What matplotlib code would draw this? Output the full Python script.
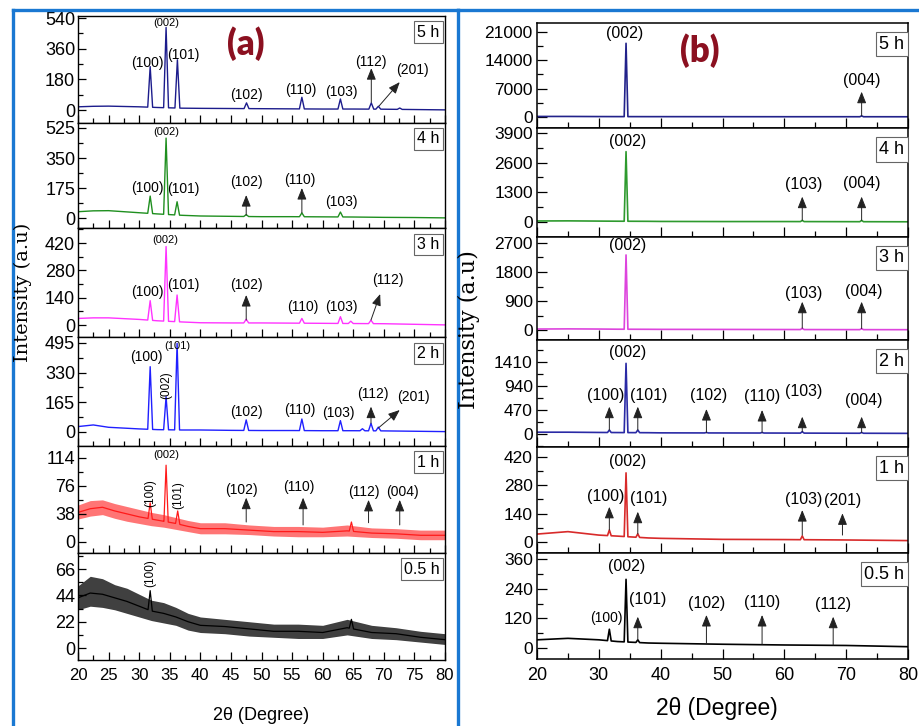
import numpy as np
import matplotlib
matplotlib.use("Agg")
import matplotlib.pyplot as plt
from matplotlib.ticker import AutoMinorLocator, MultipleLocator
from matplotlib.lines import Line2D

# ---------------- DATA ----------------
# Panel (a): background level of each pattern
A_BG_X = [20, 22.5, 25, 30, 33, 37, 40, 45, 50, 55, 60, 65, 70, 75, 80]
A5_BG = [19, 22, 23, 19, 15, 11, 10, 9, 8, 7, 6, 6, 5, 3, 1]
A4_BG = [37, 42, 43, 31, 24, 16, 12, 10, 8, 8, 7, 6, 4, 3, 1]
A3_BG = [34, 37, 37, 29, 22, 16, 12, 11, 11, 10, 9, 8, 7, 4, 1]
A2_BG = [30, 39, 26, 17, 13, 11, 11, 9, 8, 8, 7, 7, 6, 4, 2]

# noisy patterns of panel (a): centre, upper and lower envelope
A_NZ_X = [20, 22, 24, 26, 28, 30, 32, 34, 36, 38, 40, 44, 48, 52, 56, 60, 64, 68, 72, 76, 80]
A1_MID = [40, 45, 47, 42, 38, 34, 31, 28, 25, 21, 18, 18, 16, 14, 14, 13, 15, 12, 11, 9, 9]
A1_HI = [50, 56, 57, 52, 48, 44, 40, 37, 33, 29, 26, 26, 23, 21, 21, 20, 23, 19, 18, 16, 16]
A1_LO = [31, 35, 37, 32, 28, 25, 22, 20, 17, 14, 11, 11, 10, 8, 7, 7, 8, 6, 5, 3, 3]
A05_MID = [42, 46, 45, 42, 39, 35, 31, 29, 26, 22, 19, 18, 16, 14, 14, 13, 17, 13, 12, 9, 7]
A05_HI = [52, 60, 58, 53, 50, 45, 40, 38, 34, 29, 26, 24, 22, 20, 20, 19, 24, 19, 17, 14, 12]
A05_LO = [32, 35, 34, 32, 29, 26, 23, 21, 19, 15, 13, 12, 10, 9, 8, 8, 11, 8, 7, 5, 3]

# peaks of panel (a): position (2theta) and top intensity
A5_PK_X = [31.8, 34.4, 36.25, 47.55, 56.6, 62.9, 67.95, 69.1, 72.6]
A5_PK_Y = [255, 485, 295, 42, 75, 65, 42, 22, 12]
A4_PK_X = [31.8, 34.4, 36.2, 47.5, 56.6, 62.9]
A4_PK_Y = [128, 466, 95, 20, 30, 35]
A3_PK_X = [31.8, 34.4, 36.2, 47.5, 56.6, 62.9, 64.6, 67.9]
A3_PK_Y = [125, 402, 154, 30, 34, 43, 20, 25]
A2_PK_X = [31.8, 34.4, 36.2, 47.5, 56.6, 62.9, 66.5, 67.9, 69.1]
A2_PK_Y = [363, 196, 493, 67, 72, 63, 18, 48, 27]
A1_PK_X = [31.8, 34.4, 36.3, 64.7]
A1_PK_Y = [53, 104, 42, 27]
A05_PK_X = [31.8, 64.7]
A05_PK_Y = [48, 24]

# Panel (b)
B_BG_X = [20, 25, 30, 33, 38, 40, 50, 60, 70, 80]
B5_BG = [150, 150, 120, 110, 100, 100, 90, 80, 80, 70]
B4_BG = [45, 50, 40, 35, 30, 25, 20, 20, 15, 10]
B3_BG = [30, 35, 30, 25, 22, 20, 18, 15, 12, 10]
B2_BG = [35, 35, 30, 28, 25, 22, 20, 18, 15, 12]
B1_BG = [39, 51, 34, 29, 20, 18, 13, 12, 10, 7]
B05_BG = [33, 39, 33, 26, 20, 19, 15, 12, 10, 5]

B5_PK_X = [34.4, 72.5]
B5_PK_Y = [18200, 300]
B4_PK_X = [34.4, 62.9, 72.5]
B4_PK_Y = [3080, 70, 70]
B3_PK_X = [34.4, 62.9, 72.5]
B3_PK_Y = [2330, 55, 45]
B2_PK_X = [31.7, 34.4, 36.3, 47.4, 56.4, 62.9, 72.5]
B2_PK_Y = [78, 1384, 78, 30, 30, 45, 30]
B1_PK_X = [31.7, 34.4, 36.3, 62.9]
B1_PK_Y = [59, 340, 40, 30]
B05_PK_X = [31.7, 34.4, 36.3]
B05_PK_Y = [76, 279, 33]

# y tick values
A_YTICKS = [[0, 180, 360, 540], [0, 175, 350, 525], [0, 140, 280, 420],
            [0, 165, 330, 495], [0, 38, 76, 114], [0, 22, 44, 66]]
B_YTICKS = [[0, 7000, 14000, 21000], [0, 1300, 2600, 3900], [0, 900, 1800, 2700],
            [0, 470, 940, 1410], [0, 140, 280, 420], [0, 120, 240, 360]]
A_YLIM = [(-76, 552), (-58, 554), (-61, 497), (-78, 528), (-15, 130), (-10, 79.5)]
B_YLIM = [(-2700, 23200), (-656, 4114), (-310, 2886), (-255, 1841), (-54, 467), (-45, 386)]
TIMES = ["5 h", "4 h", "3 h", "2 h", "1 h", "0.5 h"]

# peak labels: (text, x, y, kind)   kind: n normal, s small, r rotated
A_LABELS = [
    [("(100)", 31.4, 276, "n"), ("(002)", 34.4, 510, "s"), ("(101)", 37.2, 323, "n"),
     ("(102)", 47.6, 88, "n"), ("(110)", 56.5, 117, "n"), ("(103)", 63.0, 106, "n"),
     ("(112)", 67.9, 282, "n"), ("(201)", 74.6, 235, "n")],
    [("(100)", 31.4, 175, "n"), ("(002)", 34.4, 501, "s"), ("(101)", 37.2, 169, "n"),
     ("(102)", 47.6, 210, "n"), ("(110)", 56.3, 222, "n"), ("(103)", 63.0, 93, "n")],
    [("(100)", 31.4, 171, "n"), ("(002)", 34.2, 436, "s"), ("(101)", 37.2, 205, "n"),
     ("(102)", 47.6, 205, "n"), ("(110)", 56.8, 92, "n"), ("(103)", 63.0, 92, "n"),
     ("(112)", 70.7, 231, "n")],
    [("(100)", 31.2, 418, "n"), ("(002)", 34.4, 261, "r"), ("(101)", 36.2, 478, "s"),
     ("(102)", 47.5, 113, "n"), ("(110)", 56.3, 122, "n"), ("(103)", 62.5, 107, "n"),
     ("(112)", 68.2, 211, "n"), ("(201)", 74.8, 196, "n")],
    [("(100)", 31.8, 66, "r"), ("(002)", 34.4, 118, "s"), ("(101)", 36.4, 64, "r"),
     ("(102)", 46.8, 71, "n"), ("(110)", 56.1, 75, "n"), ("(112)", 66.8, 68, "n"),
     ("(004)", 73.0, 68, "n")],
    [("(100)", 31.8, 63, "r")],
]
# arrows: (x_from, y_from, x_to, y_to)
A_ARROWS = [
    [(67.95, 45, 67.95, 246), (69.2, 23, 72.6, 164)],
    [(47.5, 17, 47.5, 134), (56.6, 30, 56.6, 175)],
    [(47.5, 26, 47.5, 154), (67.9, 26, 69.4, 159)],
    [(67.9, 48, 67.9, 141), (69.1, 22, 72.6, 122)],
    [(47.5, 27, 47.5, 60), (56.8, 23, 56.8, 60), (67.5, 26, 67.5, 57), (72.6, 23, 72.6, 57)],
    [],
]
B_LABELS = [
    [("(002)", 34.2, 20680, "n"), ("(004)", 72.5, 9140, "n")],
    [("(002)", 34.7, 3520, "n"), ("(103)", 63.2, 1625, "n"), ("(004)", 72.5, 1700, "n")],
    [("(002)", 34.6, 2637, "n"), ("(103)", 63.2, 1138, "n"), ("(004)", 72.8, 1190, "n")],
    [("(002)", 34.6, 1592, "n"), ("(100)", 31.1, 763, "n"), ("(101)", 38.0, 763, "n"),
     ("(102)", 47.8, 763, "n"), ("(110)", 56.4, 730, "n"), ("(103)", 63.1, 828, "n"),
     ("(004)", 72.8, 665, "n")],
    [("(002)", 34.7, 395, "n"), ("(100)", 31.1, 223, "n"), ("(101)", 38.0, 215, "n"),
     ("(103)", 63.1, 210, "n"), ("(201)", 69.5, 203, "n")],
    [("(100)", 31.3, 121, "s"), ("(002)", 34.5, 331, "n"), ("(101)", 37.9, 195, "n"),
     ("(102)", 47.4, 179, "n"), ("(110)", 56.4, 184, "n"), ("(112)", 67.9, 175, "n")],
]
B_ARROWS = [
    [(72.5, 300, 72.5, 6250)],
    [(62.9, 70, 62.9, 1110), (72.5, 70, 72.5, 1110)],
    [(62.9, 55, 62.9, 878), (72.5, 45, 72.5, 878)],
    [(31.7, 78, 31.7, 535), (36.3, 78, 36.3, 535), (47.4, 26, 47.4, 489),
     (56.4, 26, 56.4, 470), (62.9, 45, 62.9, 339), (72.5, 26, 72.5, 339)],
    [(31.7, 59, 31.7, 173), (36.3, 40, 36.3, 149), (62.9, 34, 62.9, 157), (69.4, 34, 69.4, 141)],
    [(36.3, 33, 36.3, 127), (47.4, 19, 47.4, 134), (56.4, 15, 56.4, 134), (67.9, 12, 67.9, 127)],
]

A_COLORS = ["#1c1c8c", "#1f8f1f", "#ff33ff", "#2020ff", "#ff1a1a", "#000000"]
B_COLORS = ["#22228a", "#2e9a2e", "#dd44dd", "#2a2aa5", "#d82a2a", "#000000"]
A_BAND_ALPHA = [0, 0, 0, 0, 0.6, 0.75]


# ---------------- helpers ----------------
def trace(bgx, bgy, pkx, pky, hw):
    xs, ys = [], []
    for x, y in zip(bgx, bgy):
        if all(abs(x - p) > hw for p in pkx):
            xs.append(x)
            ys.append(y)
    for p, h in zip(pkx, pky):
        for dx in (-hw, hw):
            xs.append(p + dx)
            ys.append(float(np.interp(p + dx, bgx, bgy)))
        xs.append(p)
        ys.append(h)
    o = np.argsort(xs)
    return np.asarray(xs)[o], np.asarray(ys)[o]


W, H = 919, 726
fig = plt.figure(figsize=(W / 100, H / 100), dpi=100)
SANS = "Liberation Sans"


def add_ax(l, r, t, b):
    return fig.add_axes([l / W, 1 - b / H, (r - l) / W, (b - t) / H])


A_EDGES = [16, 123, 228, 337, 446, 553, 660]
B_EDGES = [23, 128, 237, 340, 447, 553, 659]

A_BG = [A5_BG, A4_BG, A3_BG, A2_BG]
A_PK = [(A5_PK_X, A5_PK_Y), (A4_PK_X, A4_PK_Y), (A3_PK_X, A3_PK_Y),
        (A2_PK_X, A2_PK_Y), (A1_PK_X, A1_PK_Y), (A05_PK_X, A05_PK_Y)]
A_NZ = [None, None, None, None, (A1_MID, A1_LO, A1_HI), (A05_MID, A05_LO, A05_HI)]
B_BG = [B5_BG, B4_BG, B3_BG, B2_BG, B1_BG, B05_BG]
B_PK = [(B5_PK_X, B5_PK_Y), (B4_PK_X, B4_PK_Y), (B3_PK_X, B3_PK_Y),
        (B2_PK_X, B2_PK_Y), (B1_PK_X, B1_PK_Y), (B05_PK_X, B05_PK_Y)]

arrow_kw = dict(arrowstyle="-|>,head_length=0.7,head_width=0.28", lw=0.7,
                color="#222222", mutation_scale=10, shrinkA=0, shrinkB=0)

# ---------------- panel (a) ----------------
for i in range(6):
    ax = add_ax(78, 445, A_EDGES[i], A_EDGES[i + 1])
    c = A_COLORS[i]
    px, py = A_PK[i]
    if A_NZ[i] is None:
        x, y = trace(A_BG_X, A_BG[i], px, py, 0.4)
        ax.plot(x, y, color=c, lw=1.0)
    else:
        mid, lo, hi = A_NZ[i]
        ax.fill_between(A_NZ_X, lo, hi, color=c, alpha=A_BAND_ALPHA[i], lw=0)
        x, y = trace(A_NZ_X, mid, px, py, 0.35)
        ax.plot(x, y, color=c, lw=0.9)
    ax.set_xlim(20, 80)
    ax.set_ylim(*A_YLIM[i])
    ax.set_yticks(A_YTICKS[i])
    ax.yaxis.set_minor_locator(AutoMinorLocator(2))
    ax.xaxis.set_major_locator(MultipleLocator(5))
    ax.xaxis.set_minor_locator(MultipleLocator(2.5))
    ax.tick_params(which="both", direction="in", top=False, right=False)
    ax.tick_params(which="major", length=6, width=0.9)
    ax.tick_params(which="minor", length=3.5, width=0.9)
    ax.tick_params(axis="y", labelsize=13, pad=2)
    ax.tick_params(axis="x", labelsize=12, pad=6)
    for lab in ax.get_yticklabels() + ax.get_xticklabels():
        lab.set_family(SANS)
    if i < 5:
        ax.set_xticklabels([])
    for s in ax.spines.values():
        s.set_linewidth(1.0)
    for (t, lx, ly, k) in A_LABELS[i]:
        if k == "r":
            ax.text(lx, ly, t, rotation=90, ha="center", va="center", fontsize=8.5, family=SANS)
        elif k == "s":
            ax.text(lx, ly, t, ha="center", va="center", fontsize=8, family=SANS)
        else:
            ax.text(lx, ly, t, ha="center", va="center", fontsize=10, family=SANS)
    for (x0, y0, x1, y1) in A_ARROWS[i]:
        ax.annotate("", xy=(x1, y1), xytext=(x0, y0), arrowprops=arrow_kw)
    ax.text(0.985, 0.92, TIMES[i], transform=ax.transAxes, ha="right", va="top",
            fontsize=11.5, family=SANS,
            bbox=dict(boxstyle="square,pad=0.2", fc="white", ec="#666666", lw=0.8))

# ---------------- panel (b) ----------------
for i in range(6):
    ax = add_ax(537, 908, B_EDGES[i], B_EDGES[i + 1])
    c = B_COLORS[i]
    px, py = B_PK[i]
    x, y = trace(B_BG_X, B_BG[i], px, py, 0.3)
    ax.plot(x, y, color=c, lw=1.2)
    ax.set_xlim(20, 80)
    ax.set_ylim(*B_YLIM[i])
    ax.set_yticks(B_YTICKS[i])
    ax.yaxis.set_minor_locator(AutoMinorLocator(2))
    ax.xaxis.set_major_locator(MultipleLocator(10))
    ax.xaxis.set_minor_locator(MultipleLocator(5))
    ax.tick_params(which="both", direction="in", top=False, right=False)
    ax.tick_params(which="major", length=7, width=0.9)
    ax.tick_params(which="minor", length=4, width=0.9)
    ax.tick_params(axis="y", labelsize=12.5, pad=3)
    ax.tick_params(axis="x", labelsize=13, pad=6)
    for lab in ax.get_yticklabels() + ax.get_xticklabels():
        lab.set_family(SANS)
    if i < 5:
        ax.set_xticklabels([])
    for s in ax.spines.values():
        s.set_linewidth(1.1)
    for (t, lx, ly, k) in B_LABELS[i]:
        ax.text(lx, ly, t, ha="center", va="center", fontsize=10 if k == "s" else 11.5,
                family=SANS)
    for (x0, y0, x1, y1) in B_ARROWS[i]:
        ax.annotate("", xy=(x1, y1), xytext=(x0, y0), arrowprops=arrow_kw)
    ax.text(0.99, 0.88, TIMES[i], transform=ax.transAxes, ha="right", va="top",
            fontsize=13, family=SANS,
            bbox=dict(boxstyle="square,pad=0.2", fc="white", ec="#666666", lw=0.8))

# ---------------- figure texts ----------------
fig.text(261 / W, 1 - 715 / H, "2θ (Degree)", ha="center", va="center", fontsize=13, family=SANS)
fig.text(717 / W, 1 - 708 / H, "2θ (Degree)", ha="center", va="center", fontsize=16.5, family=SANS)
fig.text(23 / W, 1 - 292 / H, "Intensity (a.u)", rotation=90, ha="center", va="center",
         fontsize=14, family="DejaVu Serif")
fig.text(469 / W, 1 - 330 / H, "Intensity (a.u)", rotation=90, ha="center", va="center",
         fontsize=16, family="DejaVu Serif")
fig.text(246 / W, 1 - 44 / H, "(a)", ha="center", va="center", fontsize=25,
         fontweight="heavy", color="#8b1020", family="Lato")
fig.text(700 / W, 1 - 51 / H, "(b)", ha="center", va="center", fontsize=25,
         fontweight="heavy", color="#8b1020", family="Lato")

# blue frames
blue = "#1a78d2"
for xs, ys in [([12.5, 12.5], [9.5, 730]), ([12.5, 457.5], [9.5, 9.5]),
               ([457.5, 457.5], [9.5, 730]), ([457.5, 925], [9.5, 9.5])]:
    fig.add_artist(Line2D([v / W for v in xs], [1 - v / H for v in ys],
                          transform=fig.transFigure, color=blue, lw=2.4))

fig.savefig("out.png", dpi=100)
